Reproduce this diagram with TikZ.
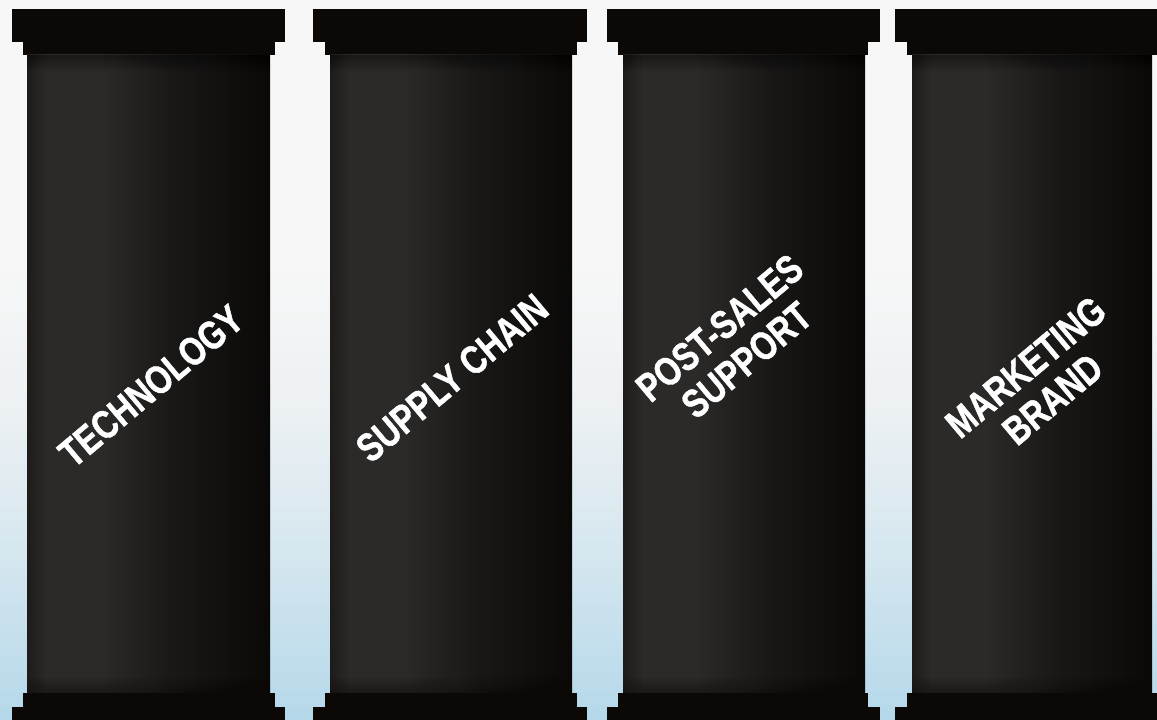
\documentclass[tikz,border=0pt]{standalone}
\usepackage{fontspec}
\setmainfont{Liberation Sans}
\newfontfamily\pillarfont[FakeBold=1.2]{Liberation Sans Bold}
\definecolor{capcol}{HTML}{0C0806}
\definecolor{shA}{HTML}{1E1C1B}
\definecolor{shB}{HTML}{2C2A28}
\definecolor{shC}{HTML}{1A1817}
\definecolor{shD}{HTML}{0A0908}
\definecolor{bgtop}{HTML}{F7F7F7}
\definecolor{bgmid}{HTML}{EDF1F3}
\definecolor{bglow}{HTML}{D4E6EF}
\definecolor{bgbot}{HTML}{B4D8EA}
\pgfdeclarehorizontalshading{shaftshade}{100bp}{color(0bp)=(shA); color(25bp)=(shA); color(29bp)=(shB); color(40bp)=(shB); color(55bp)=(shC); color(75bp)=(shD); color(100bp)=(shD)}
\pgfdeclareverticalshading{bgshade}{100bp}{color(0bp)=(bgbot); color(25bp)=(bgbot); color(36bp)=(bglow); color(47bp)=(bgmid); color(57bp)=(bgtop); color(100bp)=(bgtop)}
\newcommand\narrow[1]{\scalebox{0.8}[1]{#1}}
\tikzset{
  capblock/.style={fill=capcol},
  shaftbody/.style={shading=shaftshade},
  pillarlabel/.style={text=white, font=\pillarfont\fontsize{40}{35}\selectfont, rotate=40, inner sep=0pt, align=center}
}
\newcommand\drawpillar[6]{%
  \fill[capblock] (#1,678) rectangle (#2,711);
  \fill[capblock] (#3,665) rectangle (#4,678);
  \path[shaftbody] (#5,27) rectangle (#6,665);
  \foreach \k in {1,...,8}{\fill[black, opacity=0.05] (#5,665-2*\k) rectangle (#6,665);}
  \foreach \k in {1,...,8}{\fill[capcol, opacity=0.05] (#5,27) rectangle (#6,27+2*\k);}
  \fill[capblock] (#3,13) rectangle (#4,27);
  \fill[capblock] (#1,-5) rectangle (#2,13);
}
\begin{document}
\begin{tikzpicture}[x=1pt,y=1pt]
\useasboundingbox (0,0) rectangle (1157,720);
\shade[shading=bgshade] (0,0) rectangle (1157,720);
\drawpillar{12}{285}{23}{275}{27}{270}
\drawpillar{313}{587}{325}{577}{330}{572}
\drawpillar{607}{880}{618}{868}{623}{865}
\drawpillar{895}{1170}{907}{1170}{912}{1152}
\node[pillarlabel] (tech) at (151,334) {\narrow{TECHNOLOGY}};
\node[pillarlabel] (supply) at (452,342) {\narrow{SUPPLY CHAIN}};
\node[pillarlabel] (post) at (733,376) {\narrow{POST-SALES}\\[7pt]\narrow{SUPPORT}};
\node[pillarlabel] (mkt) at (1039,337) {\narrow{MARKETING}\\[7pt]\narrow{BRAND}};
\end{tikzpicture}
\end{document}
